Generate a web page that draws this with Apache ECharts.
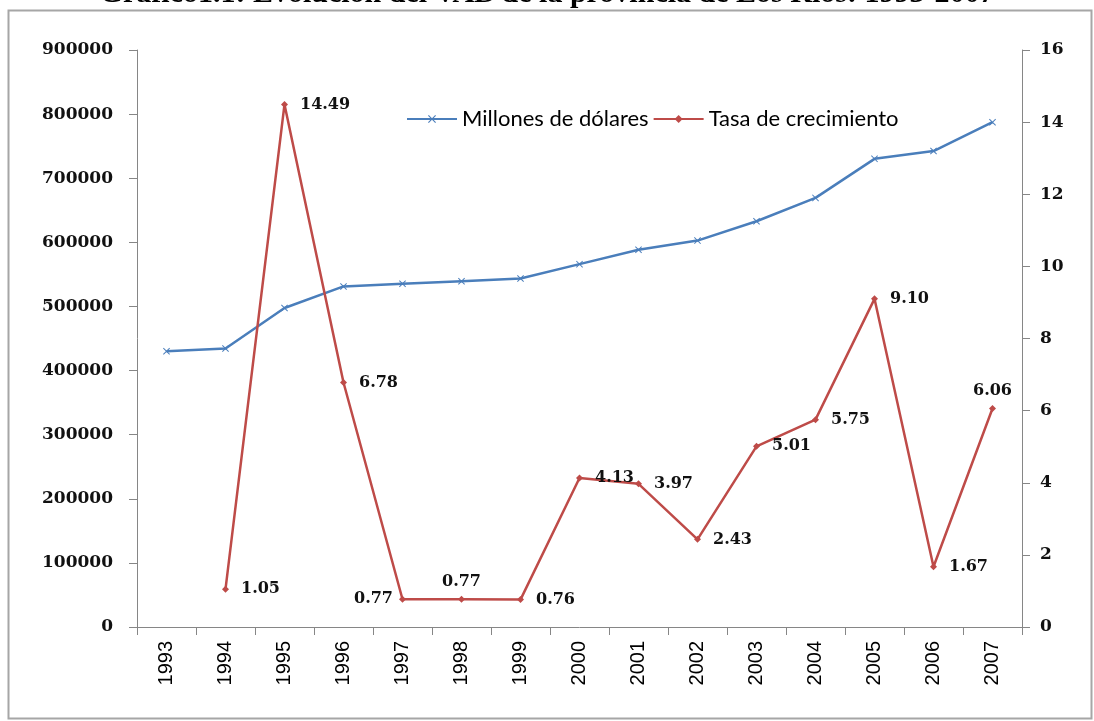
<!DOCTYPE html>
<html>
<head>
<meta charset="utf-8">
<script src="https://cdn.jsdelivr.net/npm/echarts@6/dist/echarts.min.js"></script>
<style>
html,body{margin:0;padding:0;background:#fff;}
#chart{width:1094px;height:721px;}
</style>
</head>
<body>
<div id="chart"></div>
<script>
const years = ['1993','1994','1995','1996','1997','1998','1999','2000','2001','2002','2003','2004','2005','2006','2007'];
const millonesDolares = [430000, 434500, 497500, 531200, 535300, 539400, 543500, 566000, 588400, 602700, 632900, 669300, 730200, 742400, 787400];
const tasaCrecimiento = [null, 1.05, 14.49, 6.78, 0.77, 0.77, 0.76, 4.13, 3.97, 2.43, 5.01, 5.75, 9.10, 1.67, 6.06];
const leftTicks = [0, 900000, 100000];
const rightTicks = [0, 16, 2];
const titleText = 'Gráfico1.1: Evolución del VAB de la provincia de Los Ríos: 1993-2007';
const seriesNames = ['Millones de dólares', 'Tasa de crecimiento'];

const labelPos = {4: 'left', 5: 'top', 14: 'top'};
const labelFont = {fontFamily: 'DejaVu Serif', fontWeight: 'bold', fontSize: 16, color: '#111'};

const chart = echarts.init(document.getElementById('chart'), null, {renderer: 'canvas'});
chart.setOption({
  backgroundColor: '#fff',
  animation: false,
  graphic: [
    {type: 'rect', shape: {x: 8.5, y: 10.5, width: 1083, height: 708}, style: {fill: 'none', stroke: '#a6a6a6', lineWidth: 2}, z: 0},
    {type: 'text', left: 'center', top: -21, style: {text: titleText, font: 'bold 30px "Liberation Serif"', fill: '#000'}, z: 1}
  ],
  grid: {left: 137, right: 72, top: 50, bottom: 94},
  legend: {
    left: 401, top: 103, itemGap: 4, itemWidth: 50, itemHeight: 10,
    textStyle: {fontFamily: 'Lato', fontSize: 22, color: '#000'},
    data: seriesNames
  },
  xAxis: {
    type: 'category', data: years, boundaryGap: true,
    axisLine: {lineStyle: {color: '#868686', width: 1}},
    axisTick: {show: true, length: 8, lineStyle: {color: '#868686'}},
    axisLabel: {rotate: 90, margin: 14, fontFamily: 'Liberation Sans', fontSize: 20, color: '#000'}
  },
  yAxis: [
    {
      type: 'value', min: leftTicks[0], max: leftTicks[1], interval: leftTicks[2],
      axisLine: {show: true, lineStyle: {color: '#868686'}},
      axisTick: {show: true, length: 8, inside: false, lineStyle: {color: '#868686'}},
      splitLine: {show: false},
      axisLabel: {margin: 24, formatter: v => String(v), fontFamily: 'DejaVu Serif', fontWeight: 'bold', fontSize: 17, color: '#111'}
    },
    {
      type: 'value', min: rightTicks[0], max: rightTicks[1], interval: rightTicks[2],
      position: 'right',
      axisLine: {show: true, lineStyle: {color: '#868686'}},
      axisTick: {show: true, length: 8, lineStyle: {color: '#868686'}},
      splitLine: {show: false},
      axisLabel: {margin: 18, formatter: v => String(v), fontFamily: 'DejaVu Serif', fontWeight: 'bold', fontSize: 17, color: '#111'}
    }
  ],
  series: [
    {
      name: seriesNames[0], type: 'line', yAxisIndex: 0, data: millonesDolares,
      color: '#4a7ebb',
      lineStyle: {width: 2.5, color: '#4a7ebb'},
      symbol: 'path://M0,1L1,0L5,4L9,0L10,1L6,5L10,9L9,10L5,6L1,10L0,9L4,5Z',
      symbolSize: 7,
      itemStyle: {color: '#4a7ebb'}
    },
    {
      name: seriesNames[1], type: 'line', yAxisIndex: 1,
      data: tasaCrecimiento.map((v, i) => v === null ? null : {
        value: v,
        label: {position: labelPos[i] || 'right', distance: labelPos[i] ? 6 : 12}
      }),
      color: '#be4b48',
      lineStyle: {width: 2.5, color: '#be4b48'},
      symbol: 'diamond', symbolSize: 7,
      itemStyle: {color: '#be4b48'},
      label: Object.assign({show: true, formatter: p => p.value.toFixed(2)}, labelFont)
    }
  ]
});
</script>
</body>
</html>
